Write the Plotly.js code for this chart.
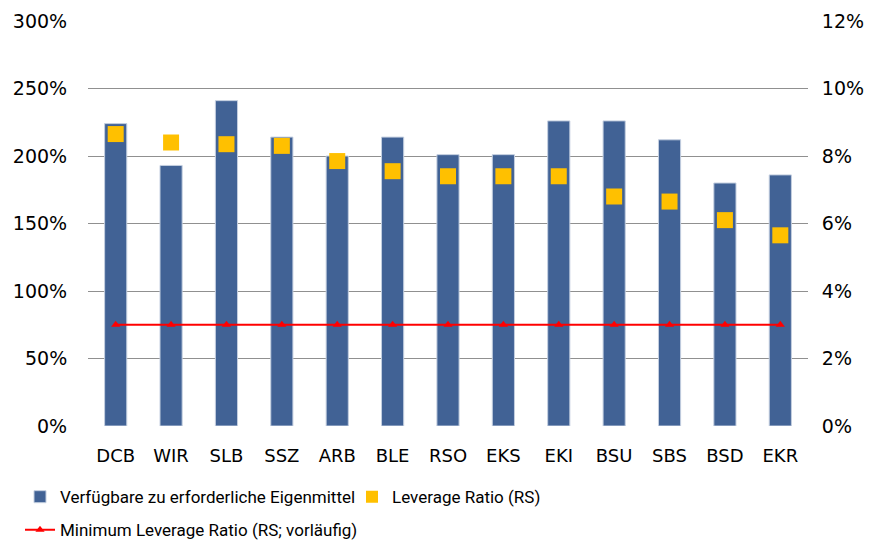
<!DOCTYPE html>
<html><head><meta charset="utf-8">
<script src="https://cdn.plot.ly/plotly-3.0.1.min.js"></script>
<style>body{margin:0;}#chart{width:871px;height:542px;}</style>
</head><body><div id="chart"></div>
<script>
const categories = ["DCB","WIR","SLB","SSZ","ARB","BLE","RSO","EKS","EKI","BSU","SBS","BSD","EKR"];
const eigenmittel = [224, 193, 241, 214, 200, 214, 201, 201, 226, 226, 212, 180, 186];
const leverage = [8.65, 8.4, 8.35, 8.3, 7.85, 7.55, 7.4, 7.4, 7.4, 6.8, 6.65, 6.1, 5.65];
const minLeverage = [3,3,3,3,3,3,3,3,3,3,3,3,3];

const fontFam = '"DejaVu Sans", sans-serif';
const legFont = 'Roboto, "DejaVu Sans", sans-serif';

const traces = [
  {type:'bar', name:'Verfügbare zu erforderliche Eigenmittel', x:categories, y:eigenmittel,
   marker:{color:'#416295', line:{color:'#c4cfe0', width:1}}, width:0.4, yaxis:'y', legend:'legend'},
  {type:'scatter', mode:'markers', name:'Leverage Ratio (RS)', x:categories, y:leverage,
   marker:{symbol:'square', size:16, color:'#ffc000'}, yaxis:'y2', legend:'legend3'},
  {type:'scatter', mode:'lines+markers', name:'Minimum Leverage Ratio (RS; vorläufig)', x:categories, y:minLeverage,
   line:{color:'#ff0000', width:2}, marker:{symbol:'triangle-up', size:8, color:'#ff0000'}, yaxis:'y2', legend:'legend2'}
];

const legendCommon = {orientation:'h', xref:'container', yref:'container', xanchor:'left', yanchor:'top',
  font:{family:legFont, size:17, color:'#000'}, itemwidth:30, bgcolor:'rgba(0,0,0,0)', borderwidth:0};

const layout = {
  width:871, height:542,
  margin:{l:88, r:63, t:21, b:116, autoexpand:false},
  paper_bgcolor:'#ffffff', plot_bgcolor:'#ffffff',
  font:{family:fontFam, size:18, color:'#000000'},
  showlegend:true,
  xaxis:{type:'category', range:[-0.5,12.5], automargin:false, showgrid:false, zeroline:false, showline:false,
         ticks:'outside', ticklen:13, tickcolor:'rgba(0,0,0,0)',
         tickfont:{family:fontFam, size:18, color:'#000'}},
  yaxis:{range:[0,300], dtick:50, ticksuffix:'%', automargin:false, showgrid:true, gridcolor:'#909090', gridwidth:1,
         zeroline:false, showline:false, ticks:'outside', ticklen:16, tickcolor:'rgba(0,0,0,0)',
         tickfont:{family:fontFam, size:19, color:'#000'}},
  yaxis2:{range:[0,12], dtick:2, ticksuffix:'%', overlaying:'y', side:'right', automargin:false, showgrid:false,
          zeroline:false, showline:false, ticks:'outside', ticklen:9, tickcolor:'rgba(0,0,0,0)',
          tickfont:{family:fontFam, size:19, color:'#000'}},
  legend:Object.assign({}, legendCommon, {x:20/871, y:0.116}),
  legend3:Object.assign({}, legendCommon, {x:352/871, y:0.116, itemsizing:'constant'}),
  legend2:Object.assign({}, legendCommon, {x:20/871, y:0.055})
};

Plotly.newPlot('chart', traces, layout, {displayModeBar:false, staticPlot:true});
</script></body></html>
